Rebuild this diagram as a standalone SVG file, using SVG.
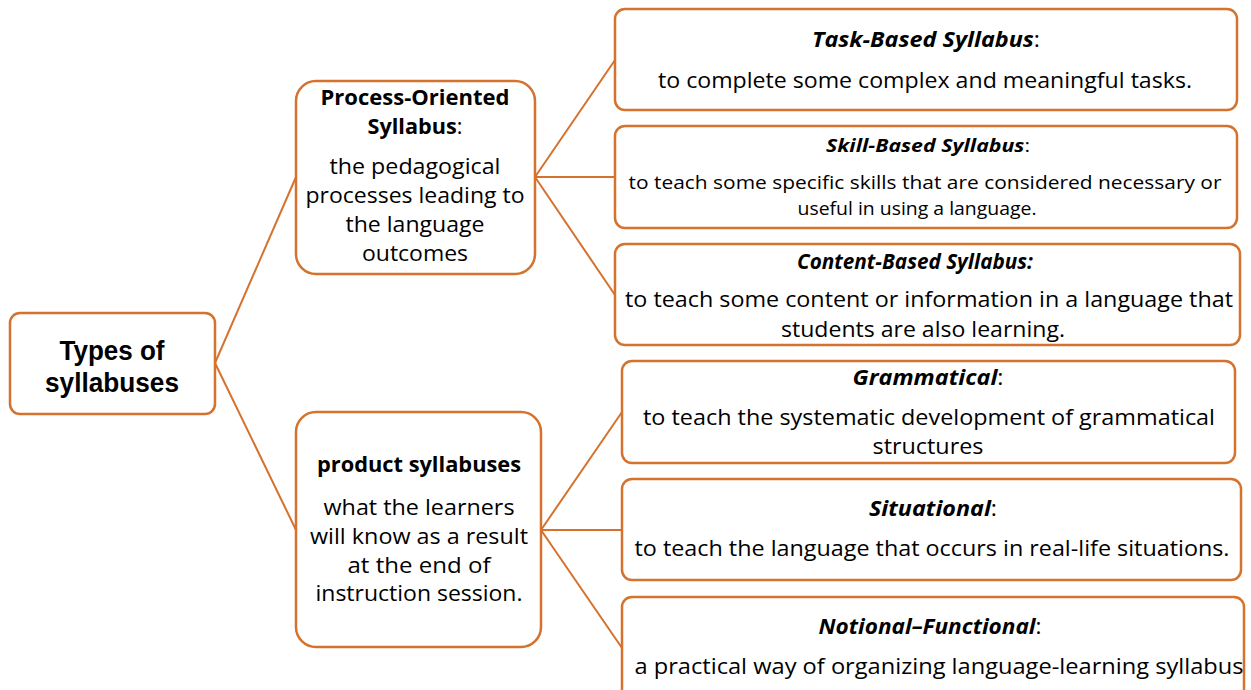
<svg xmlns="http://www.w3.org/2000/svg" width="1251" height="690" viewBox="0 0 1251 690">
<style>
.box{fill:#fff;stroke:#D4722E;stroke-width:2.5}
.ln{stroke:#D4722E;stroke-width:2;fill:none}
text{font-family:"Open Sans","Noto Sans",sans-serif;fill:#000;text-anchor:middle}
.t{font-size:21px}
.s{font-size:18px}
.b{font-weight:bold}
.i{font-style:italic;font-weight:bold}
.r{font-family:"Liberation Sans",Arial,sans-serif;font-weight:bold;font-size:28px}
</style>
<rect width="1251" height="690" fill="#fff"/>
<g id="connectors">
<path class="ln" d="M215,363 L296,177 M215,363 L296,530"/>
<path class="ln" d="M535,177 L615,60 M535,177 L615,177 M535,177 L615,295"/>
<path class="ln" d="M541,530 L622,412 M541,530 L622,530 M541,530 L622,648"/>
</g>
<g id="root">
<rect class="box" x="10" y="313" width="205" height="101" rx="10"/>
<text class="r" x="112" y="360" textLength="105" lengthAdjust="spacingAndGlyphs">Types of</text>
<text class="r" x="112" y="392" textLength="134" lengthAdjust="spacingAndGlyphs">syllabuses</text>
</g>
<g id="process">
<rect class="box" x="296" y="81" width="239" height="193" rx="20"/>
<text class="t b" x="415" y="105" textLength="189" lengthAdjust="spacingAndGlyphs">Process-Oriented</text>
<text class="t" x="415" y="134" textLength="95" lengthAdjust="spacingAndGlyphs"><tspan class="b">Syllabus</tspan>:</text>
<text class="t" x="415" y="174" textLength="171" lengthAdjust="spacingAndGlyphs">the pedagogical</text>
<text class="t" x="415" y="203" textLength="219" lengthAdjust="spacingAndGlyphs">processes leading to</text>
<text class="t" x="415" y="232" textLength="139" lengthAdjust="spacingAndGlyphs">the language</text>
<text class="t" x="415" y="261" textLength="106" lengthAdjust="spacingAndGlyphs">outcomes</text>
</g>
<g id="product">
<rect class="box" x="296" y="412" width="245" height="235" rx="20"/>
<text class="t b" x="419" y="472" textLength="204" lengthAdjust="spacingAndGlyphs">product syllabuses</text>
<text class="t" x="419" y="515" textLength="191" lengthAdjust="spacingAndGlyphs">what the learners</text>
<text class="t" x="419" y="544" textLength="218" lengthAdjust="spacingAndGlyphs">will know as a result</text>
<text class="t" x="419" y="573" textLength="143" lengthAdjust="spacingAndGlyphs">at the end of</text>
<text class="t" x="419" y="601" textLength="207" lengthAdjust="spacingAndGlyphs">instruction session.</text>
</g>
<g id="task">
<rect class="box" x="615" y="9" width="622" height="101" rx="10"/>
<text class="t" x="926" y="47" textLength="228" lengthAdjust="spacingAndGlyphs"><tspan class="i">Task-Based Syllabus</tspan>:</text>
<text class="t" x="925" y="88" textLength="534" lengthAdjust="spacingAndGlyphs">to complete some complex and meaningful tasks.</text>
</g>
<g id="skill">
<rect class="box" x="615" y="126" width="622" height="102" rx="10"/>
<text class="s" x="928" y="152" textLength="204" lengthAdjust="spacingAndGlyphs"><tspan class="i">Skill-Based Syllabus</tspan>:</text>
<text class="s" x="925" y="189" textLength="593" lengthAdjust="spacingAndGlyphs">to teach some specific skills that are considered necessary or</text>
<text class="s" x="917" y="215" textLength="239" lengthAdjust="spacingAndGlyphs">useful in using a language.</text>
</g>
<g id="content">
<rect class="box" x="615" y="244" width="625" height="101" rx="10"/>
<text class="t" x="915" y="269" textLength="236" lengthAdjust="spacingAndGlyphs"><tspan class="i">Content-Based Syllabus:</tspan></text>
<text class="t" x="929" y="307" textLength="608" lengthAdjust="spacingAndGlyphs">to teach some content or information in a language that</text>
<text class="t" x="923" y="337" textLength="284" lengthAdjust="spacingAndGlyphs">students are also learning.</text>
</g>
<g id="grammatical">
<rect class="box" x="622" y="361" width="613" height="102" rx="10"/>
<text class="t" x="928" y="385" textLength="151" lengthAdjust="spacingAndGlyphs"><tspan class="i">Grammatical</tspan>:</text>
<text class="t" x="929" y="425" textLength="572" lengthAdjust="spacingAndGlyphs">to teach the systematic development of grammatical</text>
<text class="t" x="928" y="454" textLength="111" lengthAdjust="spacingAndGlyphs">structures</text>
</g>
<g id="situational">
<rect class="box" x="622" y="479" width="619" height="101" rx="10"/>
<text class="t" x="933" y="516" textLength="128" lengthAdjust="spacingAndGlyphs"><tspan class="i">Situational</tspan>:</text>
<text class="t" x="932" y="556" textLength="595" lengthAdjust="spacingAndGlyphs">to teach the language that occurs in real-life situations.</text>
</g>
<g id="notional">
<rect class="box" x="622" y="597" width="622" height="110" rx="10"/>
<text class="t" x="930" y="634" textLength="223" lengthAdjust="spacingAndGlyphs"><tspan class="i">Notional–Functional</tspan>:</text>
<text class="t" x="939" y="674" textLength="609" lengthAdjust="spacingAndGlyphs">a practical way of organizing language-learning syllabus</text>
</g>
</svg>
